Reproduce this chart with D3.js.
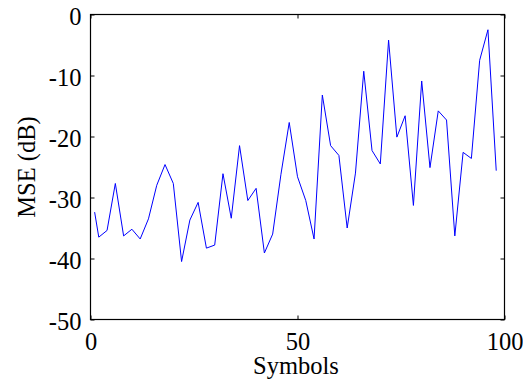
<!DOCTYPE html>
<html>
<head>
<meta charset="utf-8">
<script src="https://cdn.jsdelivr.net/npm/d3@7/dist/d3.min.js"></script>
<style>
  html, body { margin: 0; padding: 0; background: #fff; }
  svg { display: block; }
  .tick text, .label { font-family: "Liberation Serif", "Times New Roman", serif; fill: #000; }
</style>
</head>
<body>
<svg id="chart" width="523" height="383"></svg>
<script>
// Symbol index and mean squared error (dB) per symbol
const symbols = [1, 2, 4, 6, 8, 10, 12, 14, 16, 18, 20, 22, 24, 26, 28, 30, 32, 34, 36, 38,
  40, 42, 44, 46, 48, 50, 52, 54, 56, 58, 60, 62, 64, 66, 68, 70, 72, 74, 76, 78,
  80, 82, 84, 86, 88, 90, 92, 94, 96, 98];
const mseDb = [-32.4, -36.5, -35.4, -27.7, -36.3, -35.2, -36.8, -33.5, -28.0, -24.6,
  -27.7, -40.5, -33.7, -30.8, -38.3, -37.8, -26.1, -33.4, -21.5, -30.5,
  -28.5, -39.1, -36.0, -26.2, -17.7, -26.6, -30.5, -36.8, -13.2, -21.5,
  -23.1, -35.0, -26.0, -9.3, -22.3, -24.5, -4.2, -20.1, -16.6, -31.3,
  -10.9, -25.1, -15.8, -17.3, -36.3, -22.6, -23.6, -7.5, -2.5, -25.6];
const xTicks = [0, 50, 100];
const yTicks = [0, -10, -20, -30, -40, -50];

const svg = d3.select("#chart");
const plotLeft = 90.5, plotRight = 504.5, plotTop = 14.5, plotBottom = 319.5;

const x = d3.scaleLinear().domain([0, 100]).range([plotLeft, plotRight]);
const y = d3.scaleLinear().domain([-50, 0]).range([plotBottom, plotTop]);

const tickLen = 4;
const fontSize = 24.5;

// bottom axis (labels) and top axis (ticks only), ticks pointing inward
const gx = svg.append("g").attr("transform", `translate(0,${plotBottom})`)
  .call(d3.axisBottom(x).tickValues(xTicks).tickSize(-tickLen).tickPadding(13).tickFormat(d3.format("d")));
const gxTop = svg.append("g").attr("transform", `translate(0,${plotTop})`)
  .call(d3.axisTop(x).tickValues(xTicks).tickSize(-tickLen).tickFormat(""));
const gy = svg.append("g").attr("transform", `translate(${plotLeft},0)`)
  .call(d3.axisLeft(y).tickValues(yTicks).tickSize(-tickLen).tickPadding(9)
    .tickFormat(d => d < 0 ? "-" + Math.abs(d) : String(d)));
const gyRight = svg.append("g").attr("transform", `translate(${plotRight},0)`)
  .call(d3.axisRight(y).tickValues(yTicks).tickSize(-tickLen).tickFormat(""));

[gx, gxTop, gy, gyRight].forEach(g => {
  g.select(".domain").remove();
  g.selectAll(".tick line").attr("stroke", "#000").attr("stroke-width", 1);
  g.selectAll(".tick text").style("font-size", fontSize + "px");
});
gx.selectAll(".tick text").attr("dy", "0.71em");
gy.selectAll(".tick text").attr("dy", "0.4em");

// plot frame
svg.append("rect")
  .attr("x", plotLeft).attr("y", plotTop)
  .attr("width", plotRight - plotLeft).attr("height", plotBottom - plotTop)
  .attr("fill", "none").attr("stroke", "#000").attr("stroke-width", 1.2);

// MSE trace
const line = d3.line().x((d, i) => x(symbols[i])).y(d => y(d));
svg.append("path")
  .datum(mseDb)
  .attr("d", line)
  .attr("fill", "none")
  .attr("stroke", "#0000ff")
  .attr("stroke-width", 1)
  .attr("stroke-linejoin", "miter");

// axis titles
svg.append("text").attr("class", "label")
  .attr("x", 296).attr("y", 374)
  .attr("text-anchor", "middle")
  .style("font-size", fontSize + "px")
  .text("Symbols");

svg.append("text").attr("class", "label")
  .attr("transform", `translate(35,${(plotTop + plotBottom) / 2}) rotate(-90)`)
  .attr("text-anchor", "middle")
  .style("font-size", fontSize + "px")
  .text("MSE (dB)");
</script>
</body>
</html>
